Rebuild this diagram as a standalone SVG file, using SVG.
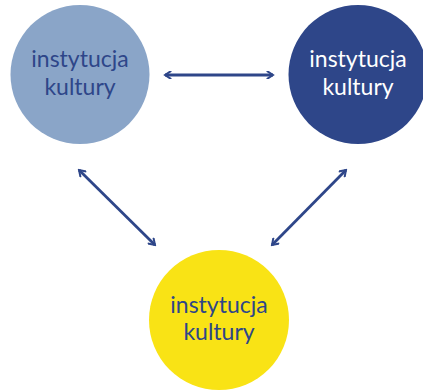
<svg xmlns="http://www.w3.org/2000/svg" width="423" height="392" viewBox="0 0 423 392">
  <style>
    .label { font-family: Lato, "Open Sans", sans-serif; font-size: 23px; text-anchor: middle; }
    .dark { fill: #2e4689; }
    .light { fill: #ffffff; }
    .link { stroke: #2e4689; stroke-width: 2.8; fill: none; marker-start: url(#chev); marker-end: url(#chev); }
  </style>
  <defs>
    <marker id="chev" viewBox="0 0 10 10" refX="8" refY="5" markerWidth="3.2" markerHeight="3.2" orient="auto-start-reverse" markerUnits="strokeWidth">
      <path d="M2,1 L8,5 L2,9" fill="none" stroke="#2e4689" stroke-width="2.2" stroke-linecap="square"/>
    </marker>
  </defs>

  <g id="connectors">
    <line class="link" x1="165" y1="75" x2="273" y2="75"/>
    <line class="link" x1="79" y1="170" x2="155" y2="245"/>
    <line class="link" x1="346" y1="170" x2="272" y2="245"/>
  </g>

  <g id="node-left">
    <circle cx="80" cy="74.5" r="69.5" fill="#8aa5c8"/>
    <text class="label dark" x="80" y="67">instytucja</text>
    <text class="label dark" x="80" y="95">kultury</text>
  </g>

  <g id="node-right">
    <circle cx="358" cy="74.5" r="69.5" fill="#2e4689"/>
    <text class="label light" x="358" y="67">instytucja</text>
    <text class="label light" x="358" y="95">kultury</text>
  </g>

  <g id="node-bottom">
    <circle cx="219" cy="320" r="70" fill="#f9e315"/>
    <text class="label dark" x="219" y="313">instytucja</text>
    <text class="label dark" x="219" y="340">kultury</text>
  </g>
</svg>
